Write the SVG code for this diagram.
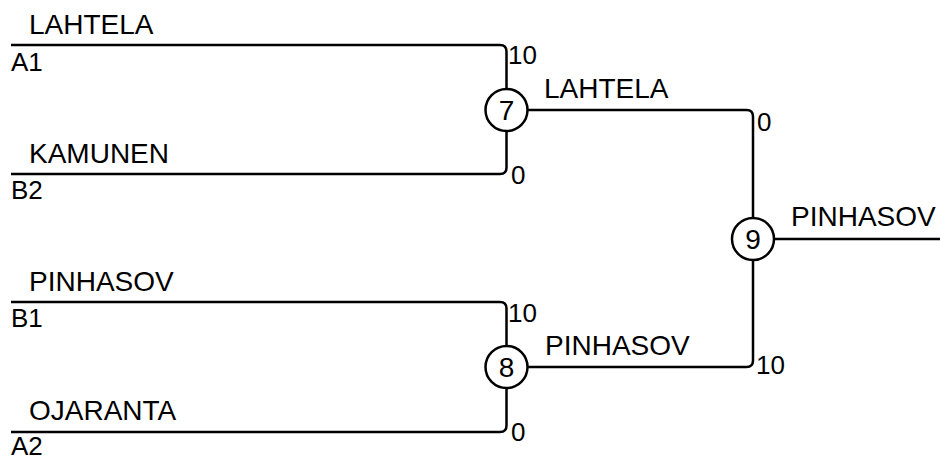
<svg xmlns="http://www.w3.org/2000/svg" width="940" height="457" viewBox="0 0 940 457">
<style>
text{font-family:"Liberation Sans",Arial,sans-serif;font-size:28px;fill:#000}
.s{font-size:26px}
.ln{fill:none;stroke:#000;stroke-width:2.5}
.nd{fill:#fff;stroke:#000;stroke-width:2.5}
.c{text-anchor:middle}
</style>
<rect width="940" height="457" fill="#fff"/>
<g id="connectors">
<path class="ln" d="M11,45 H500 Q506.5,45 506.5,51.5 V89"/>
<path class="ln" d="M11,174 H500 Q506.5,174 506.5,167.5 V131"/>
<path class="ln" d="M11,302 H500 Q506.5,302 506.5,308.5 V346"/>
<path class="ln" d="M11,432 H500 Q506.5,432 506.5,425.5 V388"/>
<path class="ln" d="M527.5,110 H746.5 Q753,110 753,116.5 V218"/>
<path class="ln" d="M527.5,367 H746.5 Q753,367 753,360.5 V260"/>
<path class="ln" d="M774,239 H940"/>
</g>
<g id="entrants">
<text x="29" y="34">LAHTELA</text>
<text class="s" x="11" y="71">A1</text>
<text x="29" y="163">KAMUNEN</text>
<text class="s" x="11" y="199">B2</text>
<text x="29" y="291">PINHASOV</text>
<text class="s" x="11" y="327">B1</text>
<text x="29" y="420">OJARANTA</text>
<text class="s" x="11" y="455">A2</text>
</g>
<g id="node7">
<circle class="nd" cx="506.5" cy="110" r="21"/>
<text class="c" x="506.5" y="120">7</text>
<text class="s" x="508" y="64">10</text>
<text class="s" x="511" y="184">0</text>
<text x="544" y="98">LAHTELA</text>
</g>
<g id="node8">
<circle class="nd" cx="506.5" cy="367" r="21"/>
<text class="c" x="506.5" y="377">8</text>
<text class="s" x="508" y="322">10</text>
<text class="s" x="511" y="441">0</text>
<text x="545" y="355">PINHASOV</text>
</g>
<g id="node9">
<circle class="nd" cx="753" cy="239" r="21"/>
<text class="c" x="753" y="249">9</text>
<text class="s" x="757" y="131">0</text>
<text class="s" x="756" y="374">10</text>
<text x="791" y="226">PINHASOV</text>
</g>
</svg>
